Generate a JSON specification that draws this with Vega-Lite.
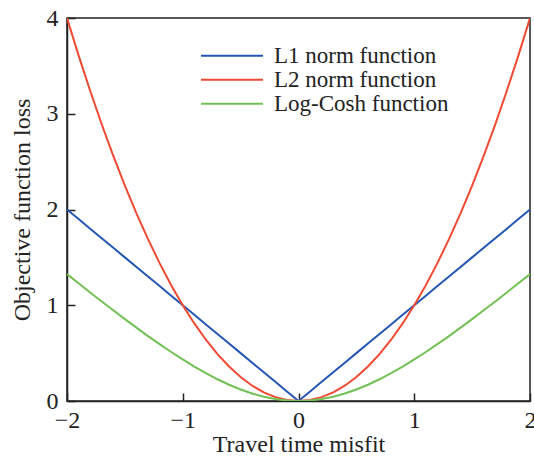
{
  "$schema": "https://vega.github.io/schema/vega-lite/v6.json",
  "width": 463,
  "height": 383,
  "autosize": "none",
  "padding": {"left": 67, "top": 18, "right": 4, "bottom": 62},
  "background": "white",
  "config": {
    "font": "Liberation Serif",
    "view": {"stroke": "#222", "strokeWidth": 1.5},
    "axis": {
      "domainColor": "#222",
      "domainWidth": 1.5,
      "tickColor": "#222",
      "tickWidth": 1.5,
      "tickSize": -8,
      "grid": false,
      "labelFlush": false,
      "labelFont": "Liberation Serif",
      "labelFontSize": 24,
      "labelColor": "#222",
      "titleFont": "Liberation Serif",
      "titleFontSize": 24,
      "titleFontWeight": "normal",
      "titleColor": "#222"
    }
  },
  "data": {
    "values": [
      {"x": -2.0, "L1 norm function": 2.0, "L2 norm function": 4.00, "Log-Cosh function": 1.325},
      {"x": -1.9, "L1 norm function": 1.9, "L2 norm function": 3.61, "Log-Cosh function": 1.229},
      {"x": -1.8, "L1 norm function": 1.8, "L2 norm function": 3.24, "Log-Cosh function": 1.134},
      {"x": -1.7, "L1 norm function": 1.7, "L2 norm function": 2.89, "Log-Cosh function": 1.040},
      {"x": -1.6, "L1 norm function": 1.6, "L2 norm function": 2.56, "Log-Cosh function": 0.947},
      {"x": -1.5, "L1 norm function": 1.5, "L2 norm function": 2.25, "Log-Cosh function": 0.855},
      {"x": -1.4, "L1 norm function": 1.4, "L2 norm function": 1.96, "Log-Cosh function": 0.766},
      {"x": -1.3, "L1 norm function": 1.3, "L2 norm function": 1.69, "Log-Cosh function": 0.678},
      {"x": -1.2, "L1 norm function": 1.2, "L2 norm function": 1.44, "Log-Cosh function": 0.594},
      {"x": -1.1, "L1 norm function": 1.1, "L2 norm function": 1.21, "Log-Cosh function": 0.512},
      {"x": -1.0, "L1 norm function": 1.0, "L2 norm function": 1.00, "Log-Cosh function": 0.434},
      {"x": -0.9, "L1 norm function": 0.9, "L2 norm function": 0.81, "Log-Cosh function": 0.360},
      {"x": -0.8, "L1 norm function": 0.8, "L2 norm function": 0.64, "Log-Cosh function": 0.291},
      {"x": -0.7, "L1 norm function": 0.7, "L2 norm function": 0.49, "Log-Cosh function": 0.227},
      {"x": -0.6, "L1 norm function": 0.6, "L2 norm function": 0.36, "Log-Cosh function": 0.170},
      {"x": -0.5, "L1 norm function": 0.5, "L2 norm function": 0.25, "Log-Cosh function": 0.120},
      {"x": -0.4, "L1 norm function": 0.4, "L2 norm function": 0.16, "Log-Cosh function": 0.078},
      {"x": -0.3, "L1 norm function": 0.3, "L2 norm function": 0.09, "Log-Cosh function": 0.044},
      {"x": -0.2, "L1 norm function": 0.2, "L2 norm function": 0.04, "Log-Cosh function": 0.020},
      {"x": -0.1, "L1 norm function": 0.1, "L2 norm function": 0.01, "Log-Cosh function": 0.005},
      {"x": 0.0, "L1 norm function": 0.0, "L2 norm function": 0.00, "Log-Cosh function": 0.000},
      {"x": 0.1, "L1 norm function": 0.1, "L2 norm function": 0.01, "Log-Cosh function": 0.005},
      {"x": 0.2, "L1 norm function": 0.2, "L2 norm function": 0.04, "Log-Cosh function": 0.020},
      {"x": 0.3, "L1 norm function": 0.3, "L2 norm function": 0.09, "Log-Cosh function": 0.044},
      {"x": 0.4, "L1 norm function": 0.4, "L2 norm function": 0.16, "Log-Cosh function": 0.078},
      {"x": 0.5, "L1 norm function": 0.5, "L2 norm function": 0.25, "Log-Cosh function": 0.120},
      {"x": 0.6, "L1 norm function": 0.6, "L2 norm function": 0.36, "Log-Cosh function": 0.170},
      {"x": 0.7, "L1 norm function": 0.7, "L2 norm function": 0.49, "Log-Cosh function": 0.227},
      {"x": 0.8, "L1 norm function": 0.8, "L2 norm function": 0.64, "Log-Cosh function": 0.291},
      {"x": 0.9, "L1 norm function": 0.9, "L2 norm function": 0.81, "Log-Cosh function": 0.360},
      {"x": 1.0, "L1 norm function": 1.0, "L2 norm function": 1.00, "Log-Cosh function": 0.434},
      {"x": 1.1, "L1 norm function": 1.1, "L2 norm function": 1.21, "Log-Cosh function": 0.512},
      {"x": 1.2, "L1 norm function": 1.2, "L2 norm function": 1.44, "Log-Cosh function": 0.594},
      {"x": 1.3, "L1 norm function": 1.3, "L2 norm function": 1.69, "Log-Cosh function": 0.678},
      {"x": 1.4, "L1 norm function": 1.4, "L2 norm function": 1.96, "Log-Cosh function": 0.766},
      {"x": 1.5, "L1 norm function": 1.5, "L2 norm function": 2.25, "Log-Cosh function": 0.855},
      {"x": 1.6, "L1 norm function": 1.6, "L2 norm function": 2.56, "Log-Cosh function": 0.947},
      {"x": 1.7, "L1 norm function": 1.7, "L2 norm function": 2.89, "Log-Cosh function": 1.040},
      {"x": 1.8, "L1 norm function": 1.8, "L2 norm function": 3.24, "Log-Cosh function": 1.134},
      {"x": 1.9, "L1 norm function": 1.9, "L2 norm function": 3.61, "Log-Cosh function": 1.229},
      {"x": 2.0, "L1 norm function": 2.0, "L2 norm function": 4.00, "Log-Cosh function": 1.325}
    ]
  },
  "transform": [
    {"fold": ["L1 norm function", "L2 norm function", "Log-Cosh function"], "as": ["loss", "value"]}
  ],
  "mark": {"type": "line", "strokeWidth": 2, "clip": true},
  "encoding": {
    "x": {
      "field": "x",
      "type": "quantitative",
      "title": "Travel time misfit",
      "scale": {"domain": [-2, 2], "nice": false},
      "axis": {
        "values": [-2, -1, 0, 1, 2],
        "labelExpr": "replace(datum.label, '-', '\u2212')",
        "labelPadding": 15,
        "titlePadding": 0
      }
    },
    "y": {
      "field": "value",
      "type": "quantitative",
      "title": "Objective function loss",
      "scale": {"domain": [0, 4], "nice": false},
      "axis": {
        "values": [0, 1, 2, 3, 4],
        "labelPadding": 17,
        "titlePadding": 12
      }
    },
    "color": {
      "field": "loss",
      "type": "nominal",
      "scale": {
        "domain": ["L1 norm function", "L2 norm function", "Log-Cosh function"],
        "range": ["#2456b4", "#f04a32", "#72c154"]
      },
      "legend": {
        "title": null,
        "orient": "none",
        "legendX": 133,
        "legendY": 26,
        "padding": 0,
        "symbolType": "stroke",
        "symbolSize": 3844,
        "symbolStrokeWidth": 2,
        "labelFont": "Liberation Serif",
        "labelFontSize": 23,
        "labelLimit": 400,
        "labelColor": "#222",
        "labelOffset": 10,
        "clipHeight": 23.5,
        "rowPadding": 0
      }
    }
  }
}
